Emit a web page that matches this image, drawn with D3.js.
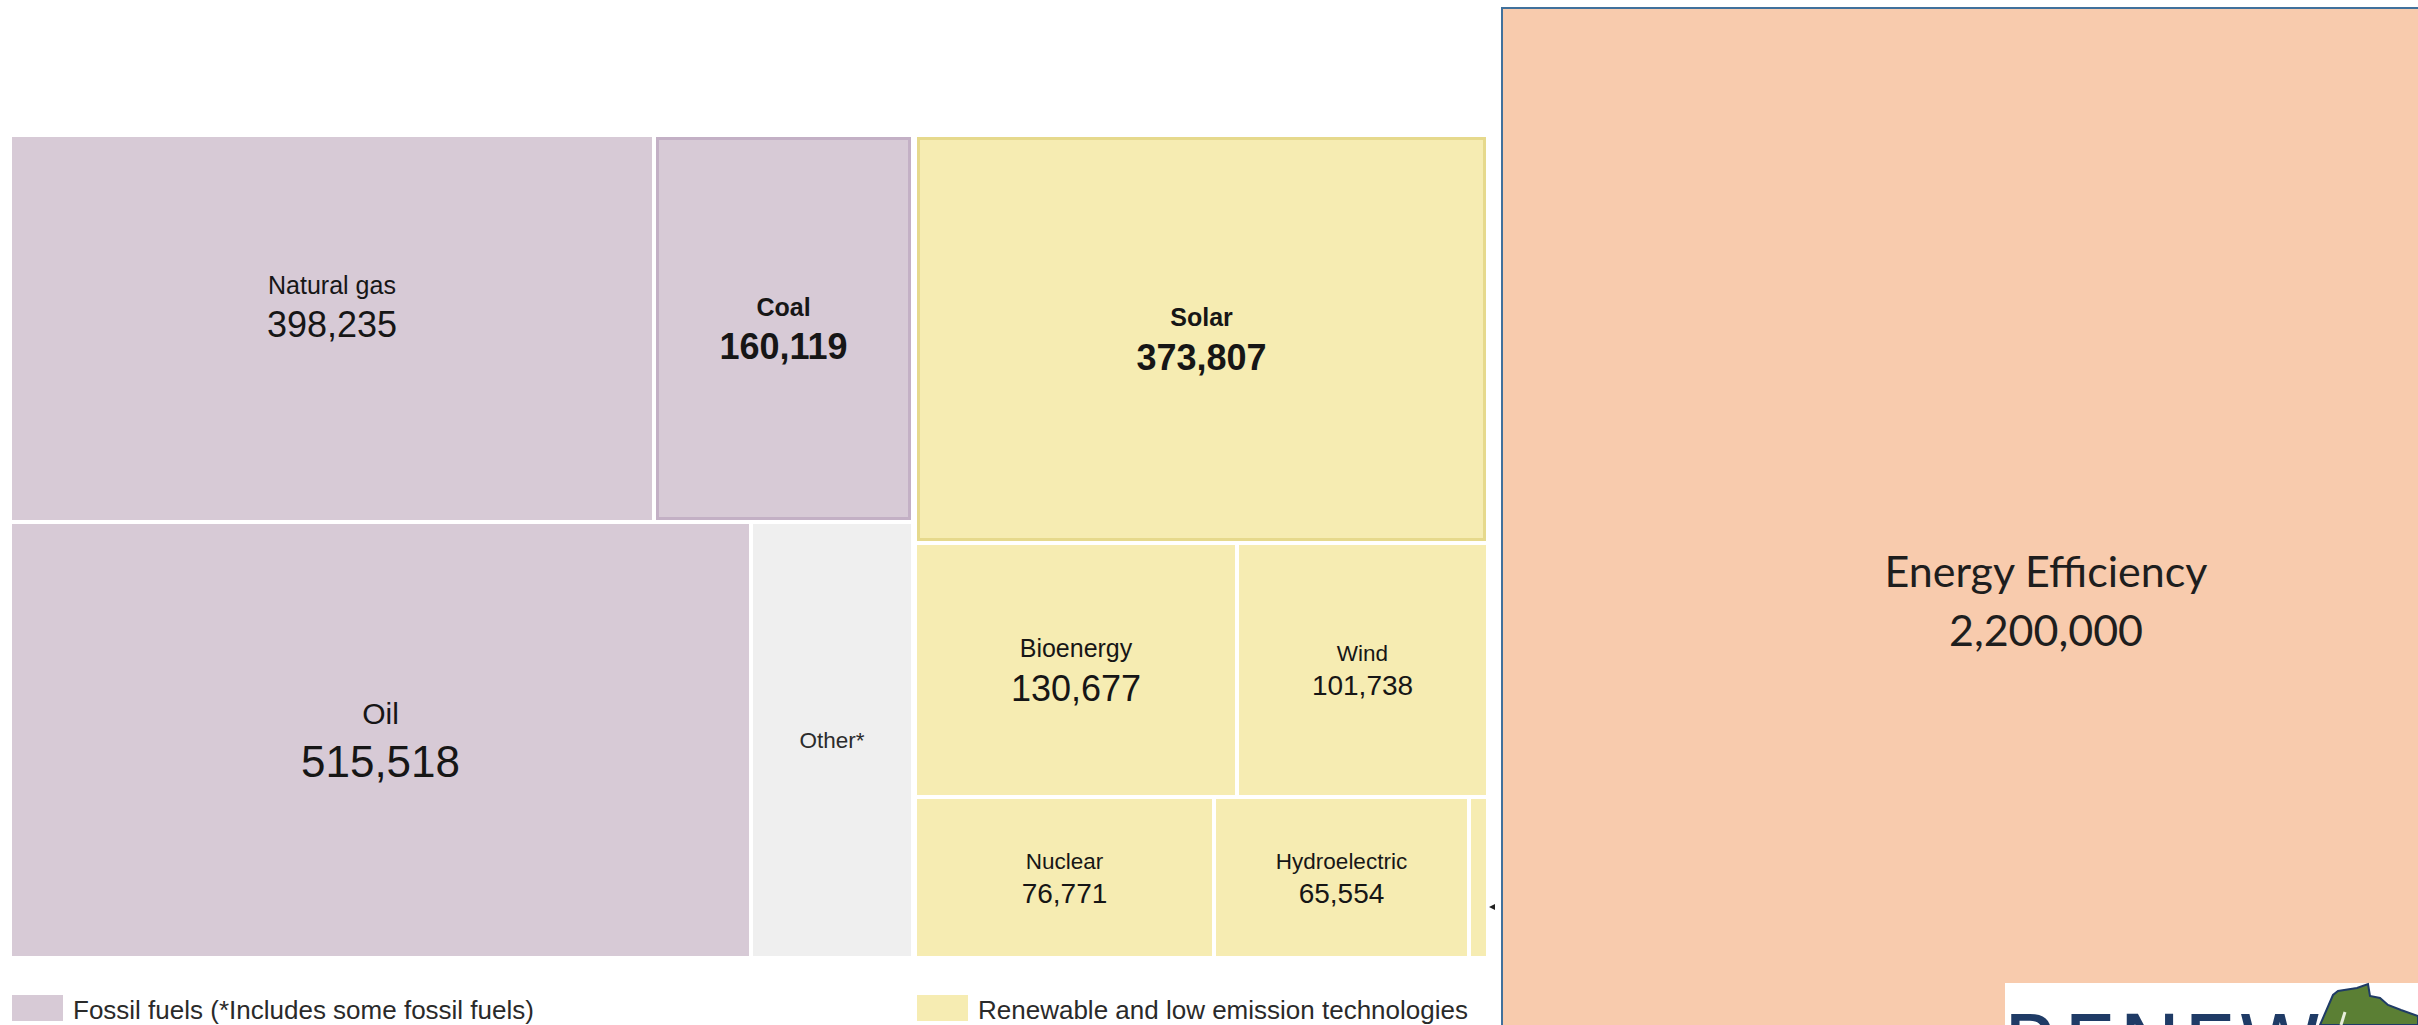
<!DOCTYPE html>
<html lang="en">
<head>
<meta charset="UTF-8">
<title>Energy investment treemap</title>
<style>
  html, body { margin: 0; padding: 0; background: #fff; }
  svg { display: block; }
  .cell-text { font-family: "Liberation Sans", Arial, sans-serif; fill: #161616; text-anchor: middle; }
  .legend-text { font-family: "Liberation Sans", Arial, sans-serif; fill: #2a2a2a; font-size: 26px; }
  .eff-text { font-family: Lato, "Noto Sans", sans-serif; fill: #1e1e1e; font-size: 43px; text-anchor: middle; }
</style>
</head>
<body>
<svg id="chart" width="2418" height="1025"></svg>

<script src="https://cdn.jsdelivr.net/npm/d3@7/dist/d3.min.js"></script>
<script>
// --- data ---
const categories = ["Natural gas", "Coal", "Oil", "Other*", "Solar", "Bioenergy", "Wind", "Nuclear", "Hydroelectric", ""];
const values = [398235, 160119, 515518, 113000, 373807, 130677, 101738, 76771, 65554, 5000];
const sector = [0, 0, 0, 0, 1, 1, 1, 1, 1, 1];   // 0 = fossil side, 1 = renewable side
const row = [0, 0, 1, 1, 0, 1, 1, 2, 2, 2];      // row inside each side
const kind = ["fossil", "fossil", "fossil", "other", "renewable", "renewable", "renewable", "renewable", "renewable", "renewable"];
const highlighted = ["Coal", "Solar"];
const noValueLabel = ["Other*", ""];

const legendKinds = ["fossil", "renewable"];
const legendLabels = ["Fossil fuels (*Includes some fossil fuels)", "Renewable and low emission technologies"];

const efficiencyLabel = "Energy Efficiency";
const efficiencyValue = 2200000;

// --- styles ---
const fills = { fossil: "#d7cad6", other: "#efefef", renewable: "#f6ecb2" };
const strokes = { fossil: "#c3b0c5", renewable: "#e6d98c" };
const labelNudge = { "Natural gas": -22 };   // the gas label sits a bit high in the original

const svg = d3.select("#chart");
const fmt = d3.format(",");

const tm = { x: 12, y: 137, w: 1474, h: 819 };

// nest the flat arrays: side -> row -> cell
const idx = d3.range(categories.length);
const nested = {
    children: d3.groups(idx, i => sector[i], i => row[i]).map(([s, rows]) => ({
        side: s,
        children: rows.map(([r, items]) => ({ children: items.map(i => ({ i: i })) }))
    }))
};

const root = d3.hierarchy(nested).sum(d => ("i" in d) ? values[d.i] : 0);

d3.treemap()
    .tile(d3.treemapSliceDice)
    .size([tm.w, tm.h])
    .paddingInner(d => d.depth === 0 ? 6 : 4)
    .round(true)(root);

const g = svg.append("g").attr("transform", `translate(${tm.x},${tm.y})`);
const leaves = root.leaves();

g.selectAll("rect.cell")
    .data(leaves)
    .join("rect")
    .attr("class", "cell")
    .attr("x", d => d.x0)
    .attr("y", d => d.y0)
    .attr("width", d => d.x1 - d.x0)
    .attr("height", d => d.y1 - d.y0)
    .attr("fill", d => fills[kind[d.data.i]]);

// highlighted cells get a darker outline drawn inside the box
const sw = 3;
g.selectAll("rect.hl")
    .data(leaves.filter(d => highlighted.includes(categories[d.data.i])))
    .join("rect")
    .attr("class", "hl")
    .attr("x", d => d.x0 + sw / 2)
    .attr("y", d => d.y0 + sw / 2)
    .attr("width", d => d.x1 - d.x0 - sw)
    .attr("height", d => d.y1 - d.y0 - sw)
    .attr("fill", "none")
    .attr("stroke", d => strokes[kind[d.data.i]])
    .attr("stroke-width", sw);

// text sizes step up with the cell value
const numberSize = d3.scaleThreshold().domain([120000, 500000]).range([28, 36, 44]);
const labelSize = d3.scaleThreshold().domain([120000, 500000]).range([22.5, 25, 30]);
const cap = 0.716;

leaves.forEach(d => {
    const i = d.data.i;
    if (!categories[i]) return;
    const cx = (d.x0 + d.x1) / 2;
    const cy = (d.y0 + d.y1) / 2 + (labelNudge[categories[i]] || 0);
    const ls = labelSize(values[i]);
    const ns = numberSize(values[i]);
    const bold = highlighted.includes(categories[i]);
    const withValue = !noValueLabel.includes(categories[i]);

    if (!withValue) {
        g.append("text").attr("class", "cell-text")
            .attr("x", cx).attr("y", cy + ls * cap / 2)
            .style("font-size", ls + "px")
            .style("fill", "#2b2b2b")
            .text(categories[i]);
        return;
    }
    const block = ls * cap + ns * 0.5 + ns * cap;
    const top = cy - block / 2;
    g.append("text").attr("class", "cell-text")
        .attr("x", cx).attr("y", top + ls * cap)
        .style("font-size", ls + "px")
        .style("font-weight", bold ? "bold" : "normal")
        .text(categories[i]);
    g.append("text").attr("class", "cell-text")
        .attr("x", cx).attr("y", top + block)
        .style("font-size", ns + "px")
        .style("font-weight", bold ? "bold" : "normal")
        .text(fmt(values[i]));
});

// small pointer next to the unlabeled sliver
const sliver = leaves.find(d => categories[d.data.i] === "");
const px = sliver.x1 + 3, py = sliver.y0 + 108;
g.append("path")
    .attr("d", `M${px},${py} L${px + 6},${py - 3} L${px + 6},${py + 3} Z`)
    .attr("fill", "#222");

// legend, each entry lined up with its side of the treemap
const sides = root.children;
legendKinds.forEach((k, j) => {
    const lx = tm.x + sides[j].x0;
    svg.append("rect")
        .attr("x", lx).attr("y", 995)
        .attr("width", 51).attr("height", 26)
        .attr("fill", fills[k]);
    svg.append("text").attr("class", "legend-text")
        .attr("x", lx + 61).attr("y", 1019)
        .text(legendLabels[j]);
});

// energy efficiency box, same area per unit as the treemap
const unitArea = (tm.w * tm.h) / d3.sum(values);
const effW = 1088;
const effH = efficiencyValue * unitArea / effW;
const effX = tm.x + tm.w + 16, effY = 8;

svg.append("rect")
    .attr("x", effX).attr("y", effY)
    .attr("width", effW).attr("height", effH)
    .attr("fill", "#f8cbad")
    .attr("stroke", "#41719c")
    .attr("stroke-width", 2);

svg.append("text").attr("class", "eff-text")
    .attr("x", effX + effW / 2).attr("y", effY + 579)
    .text(efficiencyLabel);
svg.append("text").attr("class", "eff-text")
    .attr("x", effX + effW / 2).attr("y", effY + 638)
    .text(fmt(efficiencyValue));

// corner of the logo peeking in at the bottom right
const logo = svg.append("g");
logo.append("rect")
    .attr("x", 2005).attr("y", 983)
    .attr("width", 413).attr("height", 42)
    .attr("fill", "#fff");
logo.append("text")
    .attr("x", 2003).attr("y", 1075)
    .style("font-family", "'DejaVu Sans', sans-serif")
    .style("font-size", "84px")
    .style("letter-spacing", "2px")
    .attr("fill", "#1f3b66")
    .text("RENEW");
logo.append("path")
    .attr("d", "M2320,1025 L2333,995 L2338,991 L2357,988 L2368,984 L2370,996 L2380,998 L2388,1005 L2401,1010 L2418,1016 L2418,1025 Z")
    .attr("fill", "#5b7f34")
    .attr("stroke", "#1f3b66")
    .attr("stroke-width", 2);
logo.append("line")
    .attr("x1", 2345).attr("y1", 1012).attr("x2", 2341).attr("y2", 1025)
    .attr("stroke", "#e8eedc").attr("stroke-width", 3);
</script>
</body>
</html>
